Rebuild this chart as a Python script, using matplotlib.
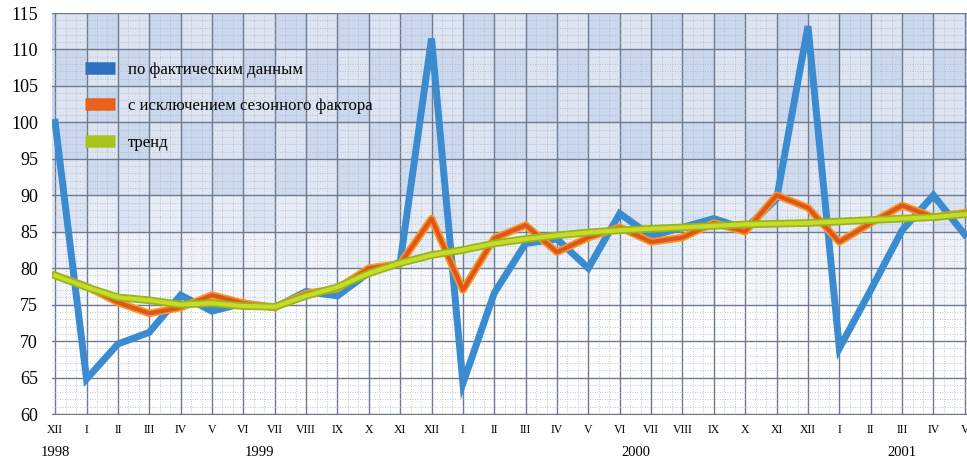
import numpy as np
import matplotlib
matplotlib.use('Agg')
import matplotlib.pyplot as plt
from matplotlib.lines import Line2D

plt.rcParams['font.family'] = ['Liberation Serif', 'DejaVu Serif']

# month labels, Dec 1998 .. May 2001
months = ['XII',
          'I', 'II', 'III', 'IV', 'V', 'VI', 'VII', 'VIII', 'IX', 'X', 'XI', 'XII',
          'I', 'II', 'III', 'IV', 'V', 'VI', 'VII', 'VIII', 'IX', 'X', 'XI', 'XII',
          'I', 'II', 'III', 'IV', 'V']
years = ['1998', '1999', '2000', '2001']
months_per_year = [1, 12, 12, 5]

# actual data
actual = [100.0,
          64.8, 69.6, 71.2, 76.3, 74.1, 75.2, 74.6, 76.8, 76.2, 79.4, 80.8, 111.5,
          64.2, 76.6, 83.4, 84.0, 80.0, 87.5, 84.4, 85.6, 86.8, 85.4, 89.5, 113.2,
          69.0, 77.0, 85.2, 90.0, 84.6]
# seasonally adjusted
adjusted = [79.0,
            77.5, 75.3, 73.8, 74.6, 76.3, 75.2, 74.6, 76.5, 77.2, 80.0, 80.6, 86.8,
            77.0, 84.1, 85.9, 82.2, 84.2, 85.6, 83.6, 84.2, 86.2, 85.0, 90.0, 88.3,
            83.6, 86.2, 88.6, 87.0, 87.6]
# trend
trend = [79.0,
         77.4, 76.0, 75.6, 75.0, 75.2, 74.8, 74.7, 76.2, 77.4, 79.3, 80.7, 81.8,
         82.5, 83.4, 84.0, 84.5, 84.9, 85.2, 85.4, 85.6, 85.8, 86.0, 86.1, 86.2,
         86.4, 86.6, 86.8, 87.0, 87.4]

labels = ['по фактическим данным',
          'с исключением сезонного фактора',
          'тренд']

x = np.arange(len(months))

fig = plt.figure(figsize=(9.67, 4.58), dpi=100)
ax = fig.add_axes([52 / 967, 1 - 414 / 458, 1 - 52 / 967, 401 / 458])

# checkered background, blue at the top fading to white
ncol, nrow = len(months) + 1, 11
bg = np.ones((nrow, ncol, 3))
blue = np.array([0.70, 0.77, 0.89])
for r in range(nrow):
    ymid = 115 - 5 * r - 2.5
    fade = np.clip((ymid - 72) / 22, 0, 1)
    for c in range(ncol):
        a = fade * (0.67 if (r + c) % 2 == 0 else 0.45)
        bg[r, c] = (1 - a) * np.ones(3) + a * blue
ax.imshow(bg, extent=(-1, ncol - 1, 60, 115), aspect='auto',
          interpolation='nearest', zorder=0)

# fine dotted texture like the print raster
ax.set_xticks(np.arange(-1, ncol, 1 / 3), minor=True)
ax.set_yticks(np.arange(60, 116, 1), minor=True)
ax.grid(True, which='minor', color='#aab4c6', linestyle=(0, (1, 2)), linewidth=0.6, zorder=1)
ax.grid(True, which='major', color='#6e7a90', linewidth=1.0, zorder=1)
ax.set_axisbelow(False)

ax.plot(x, actual, color='#3a8bd0', linewidth=5, solid_joinstyle='miter', zorder=3)
ax.plot(x, adjusted, color='#f29a28', linewidth=5.5, zorder=4)
ax.plot(x, adjusted, color='#e0551c', linewidth=3, zorder=4)
ax.plot(x, trend, color='#98b418', linewidth=5.5, zorder=5)
ax.plot(x, trend, color='#c6dc2a', linewidth=3, zorder=5)

ax.set_xlim(-0.1, len(months) - 1 + 0.07)
ax.set_ylim(60, 115)
ax.set_xticks(x)
ax.set_xticklabels(months, fontsize=8.5)
ax.set_yticks(np.arange(60, 116, 5))
ax.tick_params(axis='y', which='major', length=0, pad=10, labelsize=13)
ax.tick_params(axis='x', which='major', length=0, pad=7)
ax.tick_params(which='minor', length=0)
for s in ax.spines.values():
    s.set_visible(False)
ax.spines['bottom'].set_visible(True)
ax.spines['bottom'].set_color('#6e7a90')

# year labels centered under their months
start = 0
for yr, n in zip(years, months_per_year):
    ax.text(start + (n - 1) / 2, -0.095, yr, transform=ax.get_xaxis_transform(),
            ha='center', va='center', fontsize=10.5)
    start += n

handles = [Line2D([], [], color='#2f6fc0', linewidth=9, solid_capstyle='butt'),
           Line2D([], [], color='#e8621e', linewidth=9, solid_capstyle='butt'),
           Line2D([], [], color='#aac41e', linewidth=9, solid_capstyle='butt')]
ax.legend(handles, labels, loc='upper left', bbox_to_anchor=(85 / 967, 1 - 62 / 458),
          bbox_transform=fig.transFigure, frameon=False, fontsize=12,
          handlelength=1.8, handletextpad=0.75, labelspacing=1.22, borderpad=0,
          borderaxespad=0)

fig.savefig('out.png', dpi=100)
